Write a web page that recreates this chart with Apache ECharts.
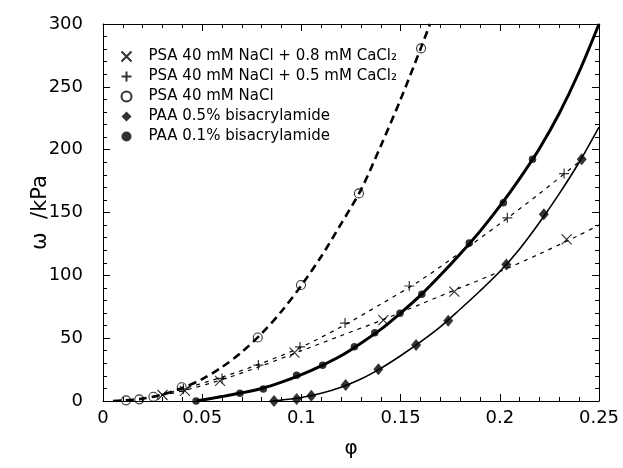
<!DOCTYPE html>
<html>
<head>
<meta charset="utf-8">
<script src="https://cdn.jsdelivr.net/npm/echarts@6/dist/echarts.min.js"></script>
<style>html,body{margin:0;padding:0;background:#fff;}#chart{width:623px;height:468px;}</style>
</head>
<body>
<div id="chart"></div>
<script>
// ---- data ----
const seriesNames = [
  'PSA 40 mM NaCl + 0.8 mM CaCl₂',
  'PSA 40 mM NaCl + 0.5 mM CaCl₂',
  'PSA 40 mM NaCl',
  'PAA 0.5% bisacrylamide',
  'PAA 0.1% bisacrylamide'
];
const xTickLabels = ['0', '0.05', '0.1', '0.15', '0.2', '0.25'];
const yTickLabels = ['0', '50', '100', '150', '200', '250', '300'];

// measured points [phi, omega kPa]
const psa08Pts = [[0.030,4.8],[0.0413,8],[0.059,16],[0.0965,38.5],[0.1413,64.4],[0.1771,87],[0.2337,128.6]];
const psa05Pts = [[0.0405,9.5],[0.060,18],[0.0783,28.6],[0.0993,43],[0.122,62],[0.1544,91.5],[0.2038,145.8],[0.2324,181]];
const psaNaClPts = [[0.0116,0.5],[0.0183,1.3],[0.0254,3.4],[0.0397,10.9],[0.0780,50.5],[0.0998,92.3],[0.129,165.2],[0.1603,280.6]];
const paa05Pts = [[0.0862,0],[0.0976,1.5],[0.1050,4.2],[0.1223,12.7],[0.1388,25.2],[0.1578,44.6],[0.1740,63.9],[0.2033,108.7],[0.2222,148.6],[0.2413,192.3]];
const paa01Pts = [[0.0469,0],[0.0690,6.1],[0.0808,9.5],[0.0976,20.4],[0.1107,28.4],[0.1267,43.2],[0.1370,54.3],[0.1497,69.8],[0.1607,85],[0.1846,125.7],[0.2018,157.8],[0.2165,192.3]];

// fitted curves
const psa08Curve = [[0.025,3],[0.04,8],[0.06,17],[0.08,28],[0.1,40],[0.12,52],[0.14,64],[0.16,77],[0.18,90],[0.2,103],[0.22,117],[0.24,132],[0.25,140]];
const psa05Curve = [[0.025,3.5],[0.04,9.5],[0.06,19],[0.08,30],[0.1,43],[0.12,59],[0.14,77],[0.16,96],[0.18,118],[0.2,141],[0.22,165],[0.2405,191]];
const psaNaClCurve = [[0.005,0],[0.01,0.4],[0.02,1.9],[0.03,5.1],[0.04,10.4],[0.05,17.4],[0.06,27],[0.07,39],[0.08,53.8],[0.09,71.4],[0.1,92],[0.11,115],[0.12,141],[0.13,168],[0.14,203],[0.15,240],[0.16,280],[0.1648,300]];
const paa05Curve = [[0.085,0],[0.09,0.8],[0.1,2.8],[0.11,6.2],[0.12,11],[0.13,17.5],[0.14,26],[0.15,36],[0.16,47],[0.17,59],[0.18,73],[0.19,87.5],[0.2,103],[0.21,121],[0.22,142],[0.23,165],[0.24,190],[0.25,218]];
const paa01Curve = [[0.047,0],[0.06,3.5],[0.07,6.5],[0.08,10],[0.09,15],[0.1,21],[0.11,28],[0.12,36],[0.13,46],[0.14,57],[0.15,70],[0.16,84],[0.17,100],[0.18,117],[0.19,135],[0.2,155],[0.21,177],[0.22,201],[0.23,229],[0.24,262],[0.25,300]];

// ---- chart ----
const FONT = 'DejaVu Sans';
const chart = echarts.init(document.getElementById('chart'), null, {renderer: 'canvas'});

const xSym = 'path://M0,0L10,10M10,0L0,10';
const pSym = 'path://M5,0L5,10M0,5L10,5';

function axisCommon(pos) {
  return {
    min: 0,
    axisLine: {show: true, onZero: false, lineStyle: {color: '#000', width: 1}},
    axisTick: {show: true, inside: true, length: 7, lineStyle: {color: '#000', width: 1}},
    minorTick: {show: true, splitNumber: 5, length: 4, lineStyle: {color: '#000', width: 1}},
    splitLine: {show: false},
    minorSplitLine: {show: false},
    position: pos
  };
}

const option = {
  animation: false,
  backgroundColor: '#fff',
  grid: {left: 103, right: 24, top: 24, bottom: 67, containLabel: false},
  legend: {
    orient: 'vertical',
    left: 114,
    top: 44,
    itemWidth: 10,
    itemHeight: 10,
    itemGap: 5,
    textStyle: {fontFamily: FONT, fontSize: 15, color: '#000', padding: [0,0,0,12]},
    data: seriesNames,
    selectedMode: false
  },
  xAxis: [
    Object.assign({}, axisCommon('bottom'), {
      type: 'value', max: 0.25, interval: 0.05,
      name: 'φ', nameLocation: 'middle', nameGap: 38,
      nameTextStyle: {fontFamily: FONT, fontSize: 20, color: '#000'},
      axisLabel: {show: true, margin: 8, fontFamily: FONT, fontSize: 18, color: '#000',
        formatter: function (v) { return xTickLabels[Math.round(v / 0.05)]; }}
    }),
    Object.assign({}, axisCommon('top'), {type: 'value', max: 0.25, interval: 0.05, axisLabel: {show: false}})
  ],
  yAxis: [
    Object.assign({}, axisCommon('left'), {
      type: 'value', max: 300, interval: 50,
      name: 'ω  /kPa', nameLocation: 'middle', nameGap: 52, nameRotate: 90,
      nameMoveOverlap: false,
      nameTextStyle: {fontFamily: FONT, fontSize: 21, color: '#000'},
      axisLabel: {show: true, margin: 20, fontFamily: FONT, fontSize: 18, color: '#000',
        formatter: function (v) { return yTickLabels[Math.round(v / 50)]; }}
    }),
    Object.assign({}, axisCommon('right'), {type: 'value', max: 300, interval: 50, axisLabel: {show: false}})
  ],
  series: [
    {type: 'line', data: psaNaClCurve, showSymbol: false, smooth: 0.3, silent: true,
     lineStyle: {color: '#000', width: 2.6, type: [8, 5]}, z: 2},
    {type: 'line', data: psa08Curve, showSymbol: false, smooth: 0.3, silent: true,
     lineStyle: {color: '#000', width: 1.2, type: [4, 5]}, z: 2},
    {type: 'line', data: psa05Curve, showSymbol: false, smooth: 0.3, silent: true,
     lineStyle: {color: '#000', width: 1.2, type: [4, 5]}, z: 2},
    {type: 'line', data: paa01Curve, showSymbol: false, smooth: 0.3, silent: true,
     lineStyle: {color: '#000', width: 3}, z: 2},
    {type: 'line', data: paa05Curve, showSymbol: false, smooth: 0.3, silent: true,
     lineStyle: {color: '#000', width: 1.6}, z: 2},

    {name: seriesNames[0], type: 'scatter', data: psa08Pts, symbol: xSym, symbolSize: 10,
     itemStyle: {color: 'none', borderColor: '#000', borderWidth: 1.2}, z: 5},
    {name: seriesNames[1], type: 'scatter', data: psa05Pts, symbol: pSym, symbolSize: 10,
     itemStyle: {color: 'none', borderColor: '#000', borderWidth: 1.2}, z: 5},
    {name: seriesNames[2], type: 'scatter', data: psaNaClPts, symbol: 'circle', symbolSize: 9,
     itemStyle: {color: 'rgba(255,255,255,0)', borderColor: '#000', borderWidth: 1.1}, z: 5},
    {name: seriesNames[3], type: 'scatter', data: paa05Pts, symbol: 'diamond', symbolSize: [10, 12],
     itemStyle: {color: '#000'}, z: 5},
    {name: seriesNames[4], type: 'scatter', data: paa01Pts, symbol: 'circle', symbolSize: 7.5,
     itemStyle: {color: '#000'}, z: 5}
  ]
};
chart.setOption(option);
</script>
</body>
</html>
